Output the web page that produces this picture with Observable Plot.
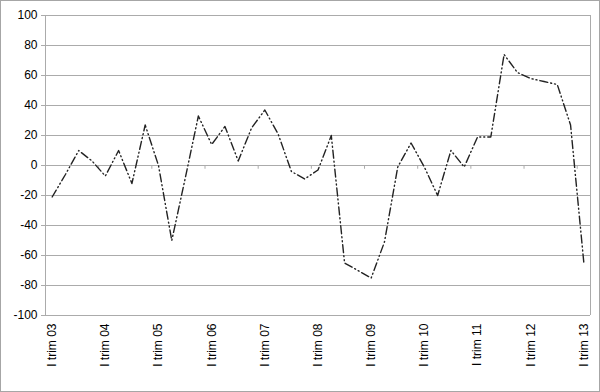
<!DOCTYPE html>
<html>
<head>
<meta charset="utf-8">
<script src="https://cdn.jsdelivr.net/npm/d3@7"></script>
<script src="https://cdn.jsdelivr.net/npm/@observablehq/plot@0.6"></script>
<style>
  html, body { margin: 0; padding: 0; background: #fff; }
  svg { display: block; outline: 1px solid #a6a6a6; outline-offset: -1px; }
</style>
</head>
<body>
<div id="chart"></div>
<script>
const years = ["03","04","05","06","07","08","09","10","11","12","13"];
const quarters = ["I","II","III","IV"];
const values = [
  -21, -6, 10, 3, -7, 10, -12, 27, 0, -50, -9,
  33, 14, 26, 3, 25, 37, 21, -4, -9, -3, 20,
  -65, -70, -75, -51, -1, 15, -1, -20, 10, -1, 19,
  19, 74, 62, 58, 56, 54, 27, -65
];
const yTicks = [-100, -80, -60, -40, -20, 0, 20, 40, 60, 80, 100];

const categories = [];
for (const y of years) for (const q of quarters) categories.push(`${q} trim ${y}`);
categories.length = values.length;

const data = values.map((v, i) => ({i, label: categories[i], v}));
const firstQ = data.filter(d => d.label.startsWith("I trim")).map(d => d.i);
const n = categories.length;

const chart = Plot.plot({
  width: 600,
  height: 392,
  marginLeft: 45,
  marginRight: 10,
  marginTop: 15,
  marginBottom: 77,
  x: {domain: [-0.5, n - 0.5]},
  y: {domain: [-100, 100]},
  style: {fontFamily: "'Liberation Sans', Arial, sans-serif", fontSize: "12px", color: "#000", background: "#fff"},
  marks: [
    Plot.ruleY(yTicks, {stroke: "#ababab", strokeWidth: 1}),
    Plot.ruleX([-0.5, n - 0.5], {stroke: "#ababab"}),
    Plot.ruleX(firstQ, {x: d => d - 0.5, y1: 0, y2: -2.5, stroke: "#ababab"}),
    Plot.axisY({ticks: yTicks, tickSize: 4, tickPadding: 4, tickFormat: d => String(d), label: null, stroke: "#ababab", fill: "#000"}),
    Plot.axisX({ticks: firstQ, tickFormat: i => categories[i], tickRotate: -90, tickSize: 0, tickPadding: 8, label: null, fill: "#000"}),
    Plot.line(data, {x: "i", y: "v", stroke: "#222", strokeWidth: 1.4, strokeDasharray: "8,3,1,3,1,3"})
  ]
});
document.getElementById("chart").append(chart);
</script>
</body>
</html>
